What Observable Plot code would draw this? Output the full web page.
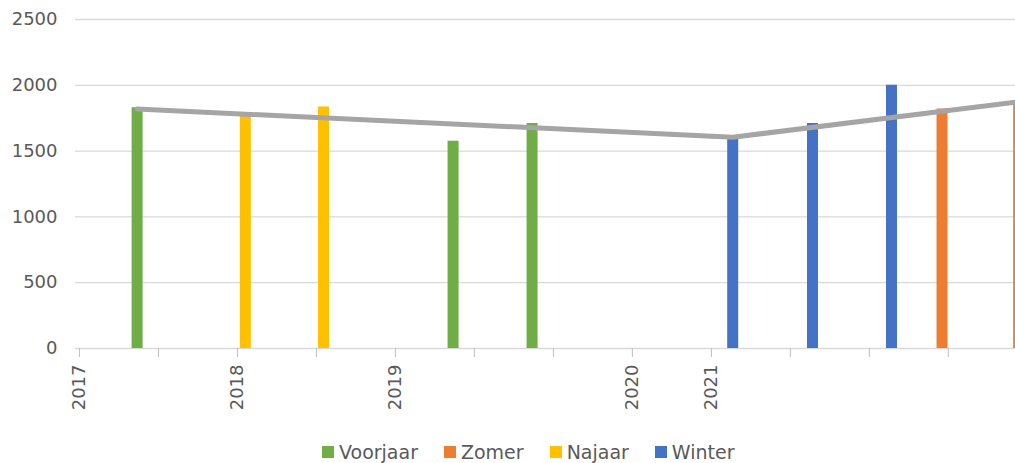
<!DOCTYPE html>
<html>
<head>
<meta charset="utf-8">
<script src="https://cdn.jsdelivr.net/npm/d3@7"></script>
<script src="https://cdn.jsdelivr.net/npm/@observablehq/plot@0.6"></script>
<style>
  html, body { margin: 0; padding: 0; background: #fff; }
  #wrap { position: relative; width: 1015px; height: 463px; overflow: hidden; }
  #legend { position: absolute; top: 440px; left: 322px; display: flex; align-items: center;
            font-family: "DejaVu Sans", sans-serif; font-size: 19px; color: #595959; height: 24px; }
  #legend .item { display: flex; align-items: center; margin-right: 26px; }
  #legend .sw { width: 12px; height: 12px; margin-right: 5px; }
</style>
</head>
<body>
<div id="wrap"><div id="chart"></div><div id="legend"></div></div>
<script>
// Series definitions
const seasons = ["Voorjaar", "Zomer", "Najaar", "Winter"];
const seasonColors = ["#70AD47", "#ED7D31", "#FFC000", "#4472C4"];

// Bars (one per measurement), position along the x axis in tick units
const barSeason = ["Voorjaar", "Najaar", "Najaar", "Voorjaar", "Voorjaar", "Winter", "Winter", "Winter", "Zomer", "Zomer"];
const barPos    = [0.73, 2.10, 3.09, 4.73, 5.73, 8.27, 9.28, 10.28, 10.92, 11.89];
const barValue  = [1830, 1770, 1835, 1575, 1710, 1600, 1710, 2000, 1820, 1875];

// Gray line
const linePos   = [0.73, 8.27, 11.89];
const lineValue = [1820, 1605, 1875];

// X tick labels (one per tick)
const tickLabels = ["2017", "", "2018", "", "2019", "", "", "2020", "2021", "", "", ""];
const yTicks = [0, 500, 1000, 1500, 2000, 2500];

const bars = barPos.map((x, i) => ({x, value: barValue[i], season: barSeason[i]}));
const line = linePos.map((x, i) => ({x, value: lineValue[i]}));

const chart = Plot.plot({
  width: 1015,
  height: 425,
  marginLeft: 75,
  marginRight: 0,
  marginTop: 19,
  marginBottom: 77,
  style: {fontFamily: "DejaVu Sans, sans-serif", fontSize: "18px", background: "#fff"},
  x: {domain: [-0.05, 11.85], label: null},
  y: {domain: [0, 2500], label: null},
  color: {domain: seasons, range: seasonColors},
  marks: [
    Plot.ruleY(yTicks, {stroke: "#D9D9D9", strokeWidth: 1.3}),
    Plot.axisY({ticks: yTicks, tickFormat: d => String(d), tickSize: 0, tickPadding: 18, fill: "#595959", label: null}),
    Plot.axisX({ticks: d3.range(tickLabels.length), tickFormat: i => tickLabels[i],
                tickSize: 9, tickPadding: 7, tickRotate: -90,
                stroke: "#BFBFBF", fill: "#595959", label: null}),
    Plot.ruleX(bars, {x: "x", y1: 0, y2: "value", stroke: "season", strokeWidth: 11}),
    Plot.line(line, {x: "x", y: "value", stroke: "#A5A5A5", strokeWidth: 5, strokeLinejoin: "round"})
  ]
});
document.getElementById("chart").appendChild(chart);

const legend = document.getElementById("legend");
seasons.forEach((s, i) => {
  const item = document.createElement("div");
  item.className = "item";
  const sw = document.createElement("div");
  sw.className = "sw";
  sw.style.background = seasonColors[i];
  const t = document.createElement("span");
  t.textContent = s;
  item.appendChild(sw);
  item.appendChild(t);
  legend.appendChild(item);
});
</script>
</body>
</html>
